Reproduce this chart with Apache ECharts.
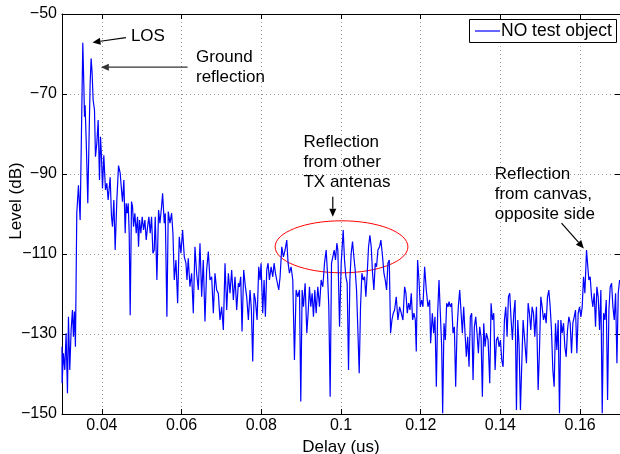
<!DOCTYPE html>
<html><head><meta charset="utf-8">
<script src="https://cdn.jsdelivr.net/npm/echarts@6/dist/echarts.min.js"></script>
<style>html,body{margin:0;padding:0;background:#fff}#c{width:620px;height:454px}</style>
</head><body><div id="c"></div>
<script>
// Delay (us) sample positions
const delays = [
0.03000,0.03003,0.03036,0.03070,0.03103,0.03137,0.03162,0.03195,0.03229,0.03262,0.03287,0.03312,0.03337,0.03371,0.03413,0.03455,0.03488,0.03522,0.03547,0.03564,
0.03580,0.03614,0.03647,0.03681,0.03706,0.03731,0.03756,0.03781,0.03815,0.03840,0.03874,0.03907,0.03941,0.03966,0.03991,0.04016,0.04049,0.04091,0.04125,0.04158,
0.04208,0.04242,0.04267,0.04301,0.04334,0.04376,0.04418,0.04460,0.04493,0.04518,0.04552,0.04585,0.04610,0.04636,0.04661,0.04686,0.04711,0.04744,0.04770,0.04795,
0.04828,0.04862,0.04895,0.04920,0.04945,0.04979,0.05012,0.05046,0.05080,0.05113,0.05147,0.05180,0.05213,0.05247,0.05281,
0.05314,0.05339,0.05381,0.05423,0.05457,0.05498,0.05524,0.05566,0.05591,0.05632,0.05666,0.05708,0.05750,0.05783,0.05817,0.05859,0.05901,0.05942,0.05984,0.06026,
0.06068,0.06110,0.06135,0.06168,0.06210,0.06252,0.06294,0.06336,0.06378,0.06420,0.06462,0.06504,0.06545,0.06587,0.06629,0.06671,0.06713,0.06755,0.06797,0.06839,
0.06880,0.06922,0.06964,0.07006,0.07048,0.07090,0.07132,0.07174,0.07215,0.07257,0.07299,0.07341,0.07383,0.07425,
0.07450,0.07484,0.07517,0.07559,0.07601,0.07634,0.07676,0.07718,0.07752,0.07785,0.07819,0.07852,0.07894,0.07936,0.07969,0.07994,0.08036,0.08070,0.08103,0.08137,
0.08170,0.08204,0.08246,0.08288,0.08321,0.08355,0.08388,0.08438,0.08472,0.08514,0.08556,0.08597,0.08639,0.08673,0.08706,0.08748,0.08790,0.08832,0.08874,0.08916,
0.08958,0.08991,0.09025,0.09058,0.09100,0.09142,0.09175,0.09209,0.09242,0.09276,0.09309,0.09343,0.09376,0.09418,0.09460,0.09502,0.09544,0.09586,0.09628,0.09661,
0.09694,0.09728,0.09762,0.09795,0.09829,0.09862,0.09896,
0.09921,0.09963,0.10005,0.10055,0.10088,0.10122,0.10155,0.10189,0.10222,0.10256,0.10289,0.10323,0.10356,0.10390,0.10423,0.10457,0.10490,0.10524,0.10557,0.10591,
0.10624,0.10658,0.10691,0.10725,0.10758,0.10792,0.10825,0.10859,0.10892,0.10926,0.10968,0.11001,0.11043,0.11077,0.11110,0.11144,0.11177,0.11211,0.11244,0.11278,
0.11311,0.11345,0.11386,0.11428,0.11470,0.11512,0.11554,0.11596,0.11629,0.11663,0.11696,0.11730,0.11763,0.11797,0.11830,0.11864,0.11889,0.11922,0.11956,0.11989,
0.12023,0.12056,0.12098,0.12140,0.12182,0.12224,
0.12249,0.12291,0.12325,0.12358,0.12392,0.12425,0.12459,0.12492,0.12526,0.12551,0.12584,0.12618,0.12651,0.12685,0.12710,0.12743,0.12777,0.12810,0.12844,0.12877,
0.12911,0.12944,0.12978,0.13011,0.13045,0.13078,0.13112,0.13145,0.13179,0.13212,0.13246,0.13279,0.13313,0.13346,0.13380,0.13413,0.13447,0.13480,0.13514,0.13547,
0.13581,0.13614,0.13648,0.13690,0.13732,0.13765,0.13799,0.13832,0.13866,0.13899,0.13933,0.13966,0.14000,0.14033,0.14067,0.14100,0.14134,0.14167,0.14201,0.14234,
0.14268,0.14301,0.14335,0.14368,0.14402,0.14435,0.14469,0.14502,0.14536,0.14569,
0.14611,0.14653,0.14695,0.14728,0.14762,0.14795,0.14829,0.14862,0.14904,0.14946,0.14980,0.15013,0.15047,0.15080,0.15114,0.15147,0.15181,0.15214,0.15248,0.15281,
0.15315,0.15348,0.15382,0.15415,0.15449,0.15482,0.15516,0.15549,0.15583,0.15616,0.15650,0.15683,0.15717,0.15750,0.15784,0.15817,0.15851,0.15884,0.15918,0.15951,
0.15985,0.16018,0.16052,0.16085,0.16119,0.16160,0.16185,0.16219,0.16252,0.16286,0.16319,0.16353,0.16386,0.16420,0.16453,0.16487,0.16520,0.16554,0.16588,0.16621,
0.16655,0.16688,0.16722,0.16755,0.16789,0.16822,0.16856,0.16889,0.16923,0.16956,0.16990
];
// Level (dB), same order as delays
const levels = [
-133.2,-142.3,-134.8,-139,-129.8,-144.8,-125.7,-139,-129,-124,-130.7,-124.4,-133.2,-99.8,-92.8,-101.5,-79.8,-57.2,-67.3,-75.7,
-72.8,-84,-97.3,-79.8,-67.3,-61.1,-64.8,-71.5,-74,-85.7,-82.3,-76.5,-91.5,-80.7,-85.7,-93.6,-85.3,-94,-92.3,-96.5,
-90.8,-100.7,-103.2,-96.5,-109,-96.5,-87.9,-89.8,-94,-96.9,-91.5,-104.8,-97.3,-99.8,-97.3,-104.8,-125.3,-96.9,-98.2,-103.2,
-99.8,-104.8,-100.7,-108.2,-101.5,-104.8,-100.7,-104,-101.5,-106.5,-103.2,-100.7,-104.8,-100.7,-109.8,
-109,-100.7,-116.5,-99,-102.3,-98.2,-94.8,-102.3,-99.8,-125.7,-99.4,-102.3,-99.8,-104.8,-116.5,-111.5,-122.3,-105.7,-109.8,-104,
-110.7,-112.3,-116.5,-111.1,-118.2,-114.8,-124.8,-108.2,-114.8,-119,-107.3,-120.7,-111.5,-126.9,-114,-109.4,-116.5,-115.7,-124.8,-114.8,
-119,-119.8,-126.5,-123.2,-129,-112.3,-124,-114.8,-119.8,-114,-121.5,-115.7,-124,-117.3,
-118.2,-115.7,-129.4,-114,-118.2,-120.7,-126.5,-119,-124,-136.9,-119.8,-121.5,-126.5,-113.2,-116.5,-112.3,-124.8,-116.5,-125.7,-114,
-112.3,-116.5,-113.2,-115.7,-112.3,-114.8,-116.5,-119,-115.7,-108.2,-110.7,-109,-106.5,-112.3,-114.8,-113.2,-116.5,-136.5,-119,-120.7,
-119,-146.9,-119,-123.2,-117.3,-129.8,-124.8,-118.2,-123.2,-119.8,-125.7,-119,-124.8,-118.2,-123.2,-116.5,-118.2,-112.3,-109,-114.8,
-123.2,-145.7,-112.3,-110.7,-109,-111.5,-107.3,
-109,-128.2,-112.3,-104,-111.5,-115.7,-117.3,-139,-116.5,-109.8,-106.9,-110.7,-114,-119,-129,-139.8,-123.2,-114.8,-116.5,-115.7,
-120.7,-114.8,-108.2,-105.3,-108.2,-114.8,-119,-112.3,-113.2,-109,-108.2,-106.5,-110.7,-114.8,-116.5,-119,-112.3,-111.5,-129.8,-126.5,
-124.8,-124,-120.7,-126.5,-123.2,-124.8,-126.5,-118.2,-119.8,-124.8,-122.3,-124,-119.8,-126.5,-124.8,-126.5,-134.4,-111.5,-116.5,-123.2,
-121.5,-123.2,-113.2,-119,-123.2,-121.5,
-132.3,-124.8,-129.8,-125.7,-143.2,-124.8,-116.5,-124.8,-133.2,-149.8,-127.3,-131.5,-122.3,-123.2,-121.9,-123.2,-122.3,-129.8,-128.2,-143.2,
-129,-123.2,-119,-118.6,-129.8,-123.2,-129.8,-135.7,-130.7,-138.2,-125.7,-124.8,-141.5,-128.2,-125.7,-129.8,-134.8,-128.2,-130.7,-145.7,
-127.3,-133.2,-129.8,-131.5,-142.3,-122.3,-126.5,-124.8,-139,-131.5,-130.7,-133.2,-131.5,-136.5,-138.2,-126.5,-123.2,-130.7,-120.7,-119.8,
-126.5,-131.5,-124.8,-121.5,-149,-126.5,-133.2,-149,-137.3,-126.5,
-126.5,-137.3,-122.3,-124.8,-129,-123.2,-124.8,-130.7,-123.2,-144,-134,-120.7,-123.2,-126.5,-124.8,-127.3,-120.7,-119,-123.2,-129,
-139,-143.2,-127.3,-134,-126.5,-149.8,-126.5,-129.8,-127.3,-133.2,-135.7,-129,-125.7,-127.3,-134.8,-127.3,-125.7,-124,-134.8,-124.8,
-123.2,-125.7,-123.2,-115.7,-119.8,-109,-112.3,-116.5,-115.7,-120.7,-123.2,-119.8,-128.2,-118.2,-120.7,-129,-119,-149.8,-124.8,-126.5,
-121.5,-146.5,-124,-118.2,-117.3,-123.2,-126.5,-119.8,-137.3,-119.8,-116.5
];
const xTicks = [0.04, 0.06, 0.08, 0.1, 0.12, 0.14, 0.16];
const yTicks = [-150, -130, -110, -90, -70, -50];
const seriesName = 'NO test object';
const xTitle = 'Delay (us)';
const yTitle = 'Level (dB)';

const FONT = '"Liberation Sans", Arial, Helvetica, sans-serif';
const chart = echarts.init(document.getElementById('c'), null, {renderer: 'canvas'});
const data = delays.map((d, i) => [d, levels[i]]);
const fmtX = v => String(Number(v.toFixed(2)));
const fmtY = v => String(v).replace('-', '\u2212');
const axisCommon = {
  type: 'value',
  axisLine: {show: true, onZero: false, lineStyle: {color: '#000', width: 1}},
  axisTick: {show: true, inside: true, length: 5, lineStyle: {color: '#000'}},
  splitLine: {show: false},
};
chart.setOption({
  animation: false,
  backgroundColor: '#fff',
  grid: {left: 62, right: 0, top: 14, bottom: 40, containLabel: false, outerBoundsMode: 'none'},
  xAxis: [
    Object.assign({}, axisCommon, {
      min: 0.03, max: 0.17, position: 'bottom',
      axisTick: Object.assign({}, axisCommon.axisTick, {customValues: xTicks}),
      axisLabel: {customValues: xTicks, formatter: fmtX, color: '#000', fontSize: 16, fontFamily: FONT, margin: 4},
      splitLine: {show: true, lineStyle: {color: '#999', type: [1, 3], width: 1}},
      name: xTitle, nameLocation: 'middle', nameGap: 19,
      nameTextStyle: {fontFamily: FONT, fontSize: 17, color: '#000'}
    }),
    Object.assign({}, axisCommon, {
      min: 0.03, max: 0.17, position: 'top',
      axisTick: Object.assign({}, axisCommon.axisTick, {customValues: xTicks}),
      axisLabel: {show: false}
    })
  ],
  yAxis: [
    Object.assign({}, axisCommon, {
      min: -150, max: -50, position: 'left',
      axisTick: Object.assign({}, axisCommon.axisTick, {customValues: yTicks}),
      axisLabel: {customValues: yTicks, formatter: fmtY, color: '#000', fontSize: 16, fontFamily: FONT, margin: 5},
      splitLine: {show: true, lineStyle: {color: '#999', type: [1, 3], width: 1}}
    }),
    Object.assign({}, axisCommon, {
      min: -150, max: -50, position: 'right',
      axisTick: Object.assign({}, axisCommon.axisTick, {customValues: yTicks}),
      axisLabel: {show: false}
    })
  ],
  series: [{
    name: seriesName, type: 'line', data: data, xAxisIndex: 0, yAxisIndex: 0,
    symbol: 'none', showSymbol: false, clip: true,
    lineStyle: {color: '#0000ff', width: 1.2}, itemStyle: {color: '#0000ff'}
  }]
});

// Annotations in data coordinates
const annoTexts = [
  {lines: ['LOS'], at: [0.04729, -55.7]},
  {lines: ['Ground', 'reflection'], at: [0.06362, -60.8]},
  {lines: ['Reflection', 'from other', 'TX antenas'], at: [0.09058, -82.2]},
  {lines: ['Reflection', 'from canvas,', 'opposite side'], at: [0.13857, -90.0]}
];
const annoArrows = [
  {from: [0.04603, -55.9], to: [0.03764, -57.1], color: '#000'},
  {from: [0.06151, -63.3], to: [0.03975, -63.3], color: '#333'},
  {from: [0.09794, -95.7], to: [0.09794, -100.7], color: '#000'},
  {from: [0.15533, -102.3], to: [0.16093, -108.6], color: '#000'}
];
const ellipseSpec = {center: [0.10013, -108.2], rx: 0.01666, ry: 6.5};

const px = p => chart.convertToPixel({gridIndex: 0}, p);
const g = [];
annoTexts.forEach(t => {
  const p = px(t.at);
  t.lines.forEach((ln, i) => {
    g.push({type: 'text', x: p[0], y: p[1] + i * 20, silent: true,
      style: {text: ln, fill: '#000', font: '17px ' + FONT, verticalAlign: 'middle', align: 'left'}});
  });
});
annoArrows.forEach(a => {
  const p0 = px(a.from), p1 = px(a.to);
  const dx = p1[0] - p0[0], dy = p1[1] - p0[1];
  const L = Math.hypot(dx, dy), ux = dx / L, uy = dy / L;
  const hl = 8, hw = 3.5;
  const bx = p1[0] - ux * hl, by = p1[1] - uy * hl;
  g.push({type: 'line', silent: true, shape: {x1: p0[0], y1: p0[1], x2: bx, y2: by},
    style: {stroke: a.color, lineWidth: 1.2}});
  g.push({type: 'polygon', silent: true, shape: {points: [
    [p1[0], p1[1]], [bx - uy * hw, by + ux * hw], [bx + uy * hw, by - ux * hw]]},
    style: {fill: a.color}});
});
{
  const c = px(ellipseSpec.center);
  const e = px([ellipseSpec.center[0] + ellipseSpec.rx, ellipseSpec.center[1] + ellipseSpec.ry]);
  g.push({type: 'ellipse', silent: true, shape: {cx: c[0], cy: c[1], rx: Math.abs(e[0] - c[0]), ry: Math.abs(e[1] - c[1])},
    style: {stroke: '#ff0000', fill: 'none', lineWidth: 1}});
}
// legend box (top-right)
{
  const L = 469, T = 19, W = 147, H = 23;
  g.push({type: 'rect', silent: true, shape: {x: L + 0.5, y: T + 0.5, width: W, height: H},
    style: {fill: '#fff', stroke: '#000', lineWidth: 1}, z: 100});
  g.push({type: 'line', silent: true, shape: {x1: L + 6, y1: T + 12, x2: L + 31, y2: T + 12},
    style: {stroke: '#0000ff', lineWidth: 1.2}, z: 101});
  g.push({type: 'text', silent: true, x: L + 32, y: T + 12.5, z: 101,
    style: {text: seriesName, fill: '#000', font: '17.5px ' + FONT, verticalAlign: 'middle', align: 'left'}});
}
// y-axis title
g.push({type: 'text', x: 16, y: 201, rotation: Math.PI / 2, silent: true,
  style: {text: yTitle, fill: '#000', font: '17px ' + FONT, align: 'center', verticalAlign: 'middle'}});
chart.setOption({graphic: g});
</script>
</body></html>
